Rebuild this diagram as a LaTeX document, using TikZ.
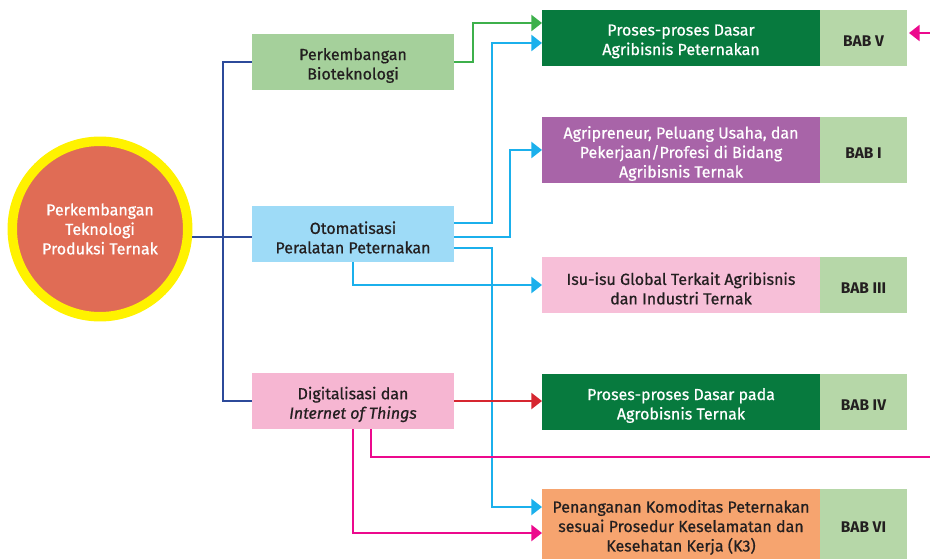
\documentclass[tikz,border=0pt]{standalone}
\usepackage{fontspec}
\setmainfont{Fira Sans}
\newfontfamily\medfont{Fira Sans}[FakeBold=0.7]
\usetikzlibrary{arrows.meta,calc}
\definecolor{cyellow}{HTML}{FFF200}
\definecolor{cred}{HTML}{E06C55}
\definecolor{biofill}{HTML}{A5D09B}
\definecolor{otofill}{HTML}{9EDBF7}
\definecolor{digfill}{HTML}{F6B6D2}
\definecolor{dgreen}{HTML}{077A3E}
\definecolor{cpurple}{HTML}{A864A8}
\definecolor{cpink}{HTML}{F7BFD8}
\definecolor{corange}{HTML}{F6A46F}
\definecolor{babgreen}{HTML}{B6D7A8}
\definecolor{cnavy}{HTML}{2C4A9A}
\definecolor{ccyan}{HTML}{1BB0EC}
\definecolor{cgreen}{HTML}{3DB04B}
\definecolor{cline}{HTML}{D62630}
\definecolor{cmag}{HTML}{EC098D}
\definecolor{ctext}{HTML}{231F20}
\begin{document}
\begin{tikzpicture}[x=0.75pt,y=-0.75pt,
  box/.style={rectangle, inner sep=0pt, outer sep=0pt, anchor=north west,
    minimum height=42pt},
  lbox/.style={box, minimum width=151.5pt},
  rbox/.style={box, minimum width=208.5pt},
  babbox/.style={box, minimum width=65.25pt, fill=babgreen},
  tx/.style={align=center, text=ctext, inner sep=0pt, yshift=-2.6pt,
    font=\medfont\fontsize{12}{14.6}\selectfont},
  wtx/.style={tx, text=white},
  btx/.style={align=center, text=ctext, inner sep=0pt, yshift=-2.2pt,
    font=\rmfamily\fontsize{11.6}{14.6}\selectfont\bfseries},
  conn/.style={line width=1.8pt},
  arr/.style={conn, -{Triangle[length=8pt,width=12pt]}}]
\useasboundingbox (0,0) rectangle (930,559);

% navy line from circle (drawn under circle)
\coordinate (cc) at (100,237);
\coordinate (t1) at (223,62);
\coordinate (t3) at (223,401);

% central circle
\node[circle, fill=cred, draw=cyellow, line width=7.1pt, minimum size=131.6pt,
  inner sep=0pt, align=center, text=white, font=\medfont\fontsize{12}{14.6}\selectfont]
  (c) at (100,229) {Perkembangan\\Teknologi\\Produksi Ternak};

% left boxes
\node[lbox, fill=biofill, label={[tx]center:{Perkembangan\\Bioteknologi}}] (bio) at (252,34) {};
\node[lbox, fill=otofill, label={[tx]center:{Otomatisasi\\Peralatan Peternakan}}] (oto) at (252,206) {};
\node[lbox, fill=digfill, label={[tx]center:{Digitalisasi dan\\\textit{Internet of Things}}}] (dig) at (252,373) {};

% right boxes
\node[rbox, fill=dgreen, label={[wtx]center:{Proses-proses Dasar\\Agribisnis Peternakan}}] (b1) at (542,10) {};
\node[babbox, label={[btx]center:{BAB V}}] (bab1) at (820,10) {};
\node[rbox, fill=cpurple, minimum height=49.5pt, label={[wtx]center:{Agripreneur, Peluang Usaha, dan\\Pekerjaan/Profesi di Bidang\\Agribisnis Ternak}}] (b2) at (542,117) {};
\node[babbox, minimum height=49.5pt, label={[btx]center:{BAB I}}] (bab2) at (820,117) {};
\node[rbox, fill=cpink, label={[tx]center:{Isu-isu Global Terkait Agribisnis\\dan Industri Ternak}}] (b3) at (542,257) {};
\node[babbox, label={[btx]center:{BAB III}}] (bab3) at (820,257) {};
\node[rbox, fill=dgreen, label={[wtx]center:{Proses-proses Dasar pada\\Agrobisnis Ternak}}] (b4) at (542,374) {};
\node[babbox, label={[btx]center:{BAB IV}}] (bab4) at (820,374) {};
\node[rbox, fill=corange, minimum height=52.5pt, label={[tx]center:{Penanganan Komoditas Peternakan\\sesuai Prosedur Keselamatan dan\\Kesehatan Kerja (K3)}}] (b5) at (542,489) {};
\node[babbox, minimum height=52.5pt, label={[btx]center:{BAB VI}}] (bab5) at (820,489) {};

% navy trunk
\draw[conn, cnavy] (c.-5) -- (c.-5 -| t1) -- (c.-5 -| oto.west);
\draw[conn, cnavy] (bio.west) -- (t1) -- (t3) -- (dig.west);

% green
\draw[arr, cgreen] (bio.east) -- ++(19,0) |- ($(b1.west)+(0,-15)$);

% cyan
\draw[arr, ccyan] ($(oto.east)+(0,-11)$) -- ++(38,0) |- ($(b1.west)+(0,5)$);
\draw[arr, ccyan] ($(oto.east)+(0,3)$) -- ++(56,0) |- (b2.west);
\draw[arr, ccyan] ($(oto.east)+(0,14)$) -- ++(38,0) |- ($(b5.west)+(0,-17)$);
\draw[arr, ccyan] (oto.south) |- (b3.west);

% red
\draw[arr, cline] (dig.east) -- (dig.east -| b4.west);

% magenta
\coordinate (edgeL) at (930,457);
\coordinate (edgeT) at (930,33);
\draw[conn, cmag] ($(dig.south)+(18,0)$) |- (edgeL);
\draw[arr, cmag] (dig.south) |- ($(b5.west)+(0,9)$);
\draw[arr, cmag] (edgeT) -- ($(bab1.east)+(2,-5)$);
\end{tikzpicture}
\end{document}
